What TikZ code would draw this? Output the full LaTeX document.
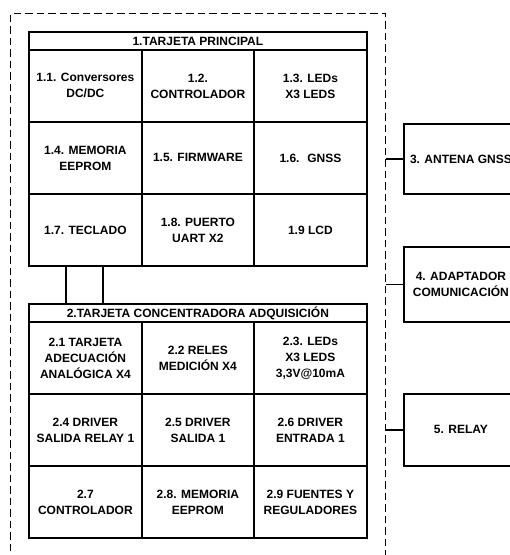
\documentclass[tikz,border=0pt]{standalone}
\usepackage{fontspec}
\setmainfont{Liberation Sans}
\begin{document}
\begin{tikzpicture}[x=1pt,y=-1pt,
  box/.style={draw, line width=1.8pt, anchor=north west, inner sep=0pt, align=center,
    font=\bfseries\fontsize{12}{16}\selectfont},
  cellA/.style={box, minimum width=113pt, minimum height=72pt},
  cellB/.style={box, minimum width=112pt, minimum height=72pt},
  titlebox/.style={box, minimum width=338pt, minimum height=18pt},
  extbox/.style={box, minimum width=114pt},
  conn/.style={line width=1.3pt},
  vconn/.style={line width=1.5pt}]
\path[use as bounding box, clip] (0,0) rectangle (510,555);
% outer dashed container
\node[draw, dash pattern=on 7.5pt off 4pt, line width=1.4pt, anchor=north west,
  minimum width=375pt, minimum height=560pt, inner sep=0pt] (sys) at (10,13) {};
% board 1
\node[titlebox] (t1) at (28,31) {1.TARJETA PRINCIPAL};
\node[cellA] (c11) at (28,49) {1.1. Conversores\\DC/DC};
\node[cellB] (c12) at (141,49) {1.2.\\CONTROLADOR};
\node[cellA] (c13) at (253,49) {1.3. LEDs\\X3 LEDS};
\node[cellA] (c14) at (28,121) {1.4. MEMORIA\\EEPROM};
\node[cellB] (c15) at (141,121) {1.5. FIRMWARE};
\node[cellA] (c16) at (253,121) {1.6.~ GNSS};
\node[cellA] (c17) at (28,193) {1.7. TECLADO};
\node[cellB] (c18) at (141,193) {1.8. PUERTO\\UART X2};
\node[cellA] (c19) at (253,193) {1.9 LCD};
% board 2
\node[titlebox] (t2) at (28,303) {2.TARJETA CONCENTRADORA ADQUISICIÓN};
\node[cellA] (c21) at (28,321) {2.1 TARJETA\\ADECUACIÓN\\ANALÓGICA X4};
\node[cellB] (c22) at (141,321) {2.2 RELES\\MEDICIÓN X4};
\node[cellA] (c23) at (253,321) {2.3. LEDs\\X3 LEDS\\3,3V@10mA};
\node[cellA] (c24) at (28,393) {2.4 DRIVER\\SALIDA RELAY 1};
\node[cellB] (c25) at (141,393) {2.5 DRIVER\\SALIDA 1};
\node[cellA] (c26) at (253,393) {2.6 DRIVER\\ENTRADA 1};
\node[cellA] (c27) at (28,465) {2.7\\CONTROLADOR};
\node[cellB] (c28) at (141,465) {2.8. MEMORIA\\EEPROM};
\node[cellA] (c29) at (253,465) {2.9 FUENTES Y\\REGULADORES};
% links between boards
\draw[vconn] ([xshift=38pt]c17.south west) -- ([xshift=38pt]c17.south west |- t2.north);
\draw[vconn] ([xshift=75pt]c17.south west) -- ([xshift=75pt]c17.south west |- t2.north);
% external boxes
\node[extbox, minimum height=70pt] (r3) at (403,123) {3. ANTENA GNSS};
\node[extbox, minimum height=75pt] (r4) at (403,246) {4. ADAPTADOR\\COMUNICACIÓN};
\node[extbox, minimum height=72pt] (r5) at (403,393) {5. RELAY};
\draw[conn] (sys.east |- r3.west) -- (r3.west);
\draw[conn] (sys.east |- r4.west) -- (r4.west);
\draw[conn] (sys.east |- r5.west) -- (r5.west);
\end{tikzpicture}
\end{document}
